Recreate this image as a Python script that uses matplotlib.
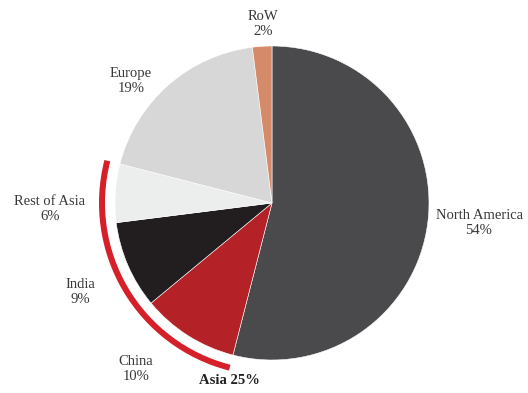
import matplotlib
matplotlib.use('Agg')
import matplotlib.pyplot as plt
from matplotlib.patches import Wedge

plt.rcParams.update({'font.family': 'Liberation Serif'})

# Data (clockwise from 12 o'clock)
regions = ["North America", "China", "India", "Rest of Asia", "Europe", "RoW"]
shares = [54, 10, 9, 6, 19, 2]
colors = ['#4a4a4c', '#b42127', '#221e1f', '#eceded', '#d7d7d7', '#d58a6a']
asia_total = 25

# label positions in pixel coords (x, y from top)
label_pos = {
    "North America": (479, 223),
    "China": (136, 369),
    "India": (80, 292),
    "Rest of Asia": (50, 209),
    "Europe": (131, 81),
    "RoW": (263, 24),
}

W, H = 528, 393
fig = plt.figure(figsize=(W / 100, H / 100), dpi=100)
ax = fig.add_axes([0, 0, 1, 1])

cx, cy, r = 272, H - 203, 157
wedges, _ = ax.pie(shares, colors=colors, startangle=90, counterclock=False,
                   center=(cx, cy), radius=r, frame=True,
                   wedgeprops=dict(linewidth=0.4, edgecolor='white'))
ax.set_xlim(0, W)
ax.set_ylim(0, H)
ax.set_aspect('equal')
ax.axis('off')

# red arc around the Asian slices
start = 90 - 360 * sum(shares[:1]) / 100
end = 90 - 360 * sum(shares[:4]) / 100
ax.add_patch(Wedge((cx, cy), 173, end % 360, start % 360, width=6,
                   facecolor='#d52029', edgecolor='none'))

for name, val in zip(regions, shares):
    x, y = label_pos[name]
    ax.text(x, H - y, f"{name}\n{val}%", ha='center', va='center',
            fontsize=10.5, color='#383838', linespacing=1.2)

ax.text(229, H - 380, f"Asia {asia_total}%", ha='center', va='center',
        fontsize=10.5, fontweight='bold', color='#222222')

fig.savefig("out.png", dpi=100)
